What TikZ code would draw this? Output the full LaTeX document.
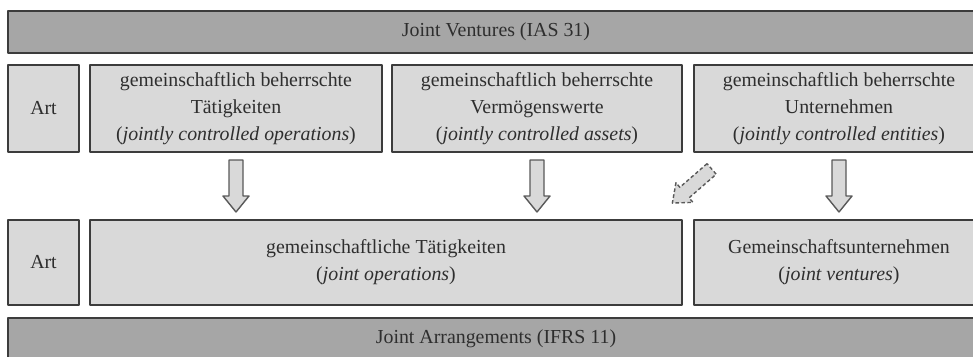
\documentclass[tikz,border=0pt]{standalone}
\usepackage{fontspec}
\setmainfont{Liberation Serif}
\usetikzlibrary{calc,positioning}
\definecolor{BarGray}{HTML}{A6A6A6}
\definecolor{BoxGray}{HTML}{D9D9D9}
\definecolor{EdgeGray}{HTML}{3C3C3C}
\definecolor{InkGray}{HTML}{2E2E2E}
\newcommand{\blockarrow}[3][]{%
  \begin{scope}[shift={#2},rotate=#3]
    \path[arrowbox,#1]
      (-7,-26) -- (-7,10) -- (-13,10) -- (0,26)
      -- (13,10) -- (7,10) -- (7,-26) -- cycle;
  \end{scope}%
}

\begin{document}
\begin{tikzpicture}[x=0.02cm,y=-0.02cm,line join=round,
    font=\fontsize{11.3}{15.3}\selectfont,
    box/.style={draw=EdgeGray,fill=BoxGray,line width=0.9pt,text=InkGray,
      align=center,inner sep=0pt},
    bar/.style={box,fill=BarGray},
    sz/.style 2 args={minimum width=#1*0.02cm,minimum height=#2*0.02cm},
    arrowbox/.style={draw=EdgeGray!85,fill=BoxGray,line width=0.8pt}]
  \useasboundingbox (0,0) rectangle (973,356);
  \clip (0,0) rectangle (973,356);
  % IAS 31
  \node[bar,sz={976}{42}] (jv) at (496,32) {Joint Ventures (IAS 31)};
  \node[box,sz={71}{87}] (art1) at (43.5,108.5) {Art};
  \node[box,sz={292}{87}] (ops) at (236,108.5)
    {gemeinschaftlich beherrschte\\T\"atigkeiten\\(\textit{jointly controlled operations})};
  \node[box,sz={290}{87}] (ass) at (537,108.5)
    {gemeinschaftlich beherrschte\\Verm\"ogenswerte\\(\textit{jointly controlled assets})};
  \node[box,sz={290}{87}] (ent) at (839,108.5)
    {gemeinschaftlich beherrschte\\Unternehmen\\(\textit{jointly controlled entities})};
  % IFRS 11
  \node[box,sz={71}{85}] (art2) at (43.5,262.5) {Art};
  \node[box,sz={592}{85}] (jop) at (386,262.5)
    {gemeinschaftliche T\"atigkeiten\\(\textit{joint operations})};
  \node[box,sz={290}{85}] (jvn) at (839,262.5)
    {Gemeinschaftsunternehmen\\(\textit{joint ventures})};
  \node[bar,sz={976}{42}] (ja) at (496,339) {Joint Arrangements (IFRS 11)};
  % arrows
  \blockarrow{($(ops.south)!0.5!(ops.south|-jop.north)$)}{0}
  \blockarrow{($(ass.south)!0.5!(ass.south|-jop.north)$)}{0}
  \blockarrow{($(ent.south)!0.5!(jvn.north)$)}{0}
  \blockarrow[dash pattern=on 2pt off 1.4pt]{($(ent.south west)!0.5!(jop.north east)+(4,0)$)}{-49}
\end{tikzpicture}
\end{document}
